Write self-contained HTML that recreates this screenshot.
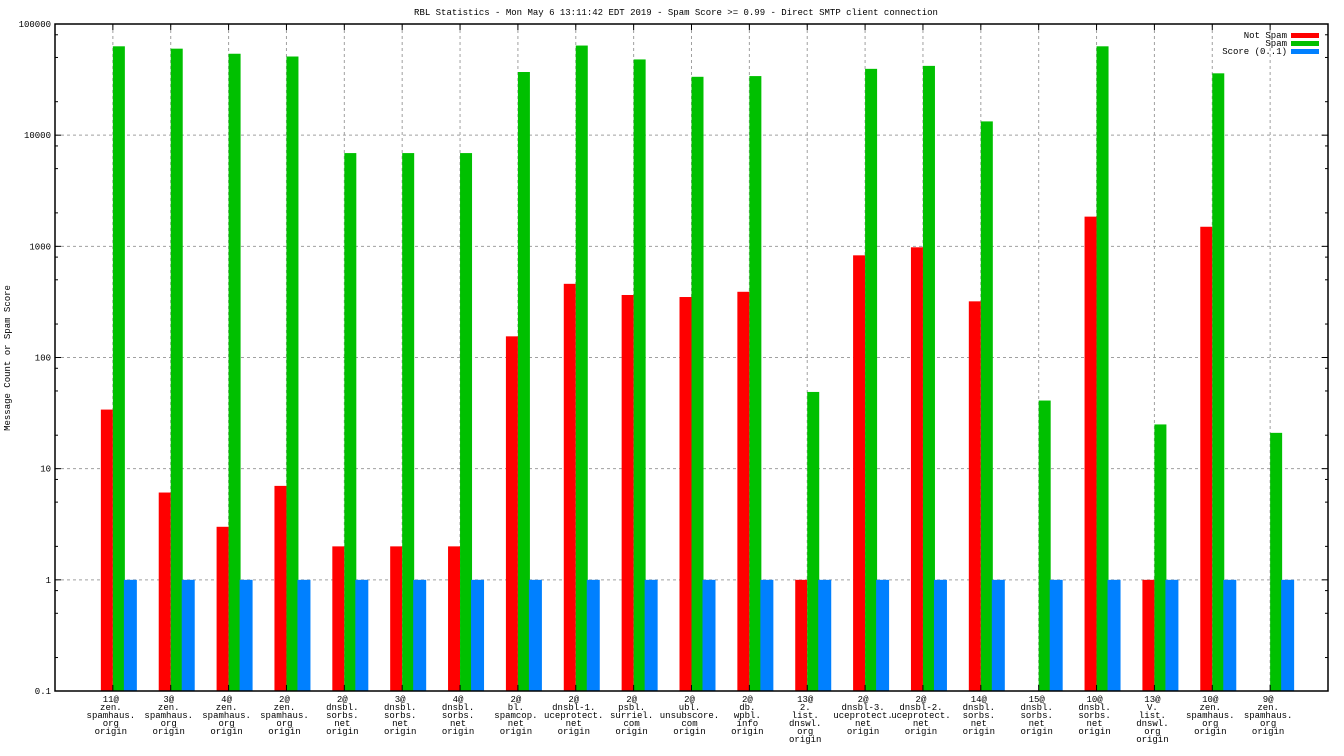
<!DOCTYPE html>
<html><head><meta charset="utf-8"><style>
html,body{margin:0;padding:0;background:#fff}
svg{display:block;font-family:"Liberation Mono",monospace}
text{font-size:9px;fill:#000}
</style></head><body>
<svg id="chart" width="1344" height="756" viewBox="0 0 1344 756" xmlns="http://www.w3.org/2000/svg">
<text x="676" y="15" text-anchor="middle">RBL Statistics - Mon May  6 13:11:42 EDT 2019 - Spam Score &gt;= 0.99 - Direct SMTP client connection</text>
<text transform="translate(10,358) rotate(-90)" text-anchor="middle">Message Count or Spam Score</text>
<g id="grid"></g><g id="bars"></g><g id="axes"></g><g id="labels"></g>
<g>
<text x="1287" y="38" text-anchor="end">Not Spam</text>
<rect x="1291" y="33" width="28" height="5" fill="#ff0000"/>
<text x="1287" y="46" text-anchor="end">Spam</text>
<rect x="1291" y="41" width="28" height="5" fill="#00c000"/>
<text x="1287" y="54" text-anchor="end">Score (0..1)</text>
<rect x="1291" y="49" width="28" height="5" fill="#0080ff"/>
</g>
</svg>
<script>
const categories=[["11@","zen.","spamhaus.","org","origin"],["3@","zen.","spamhaus.","org","origin"],["4@","zen.","spamhaus.","org","origin"],["2@","zen.","spamhaus.","org","origin"],["2@","dnsbl.","sorbs.","net","origin"],["3@","dnsbl.","sorbs.","net","origin"],["4@","dnsbl.","sorbs.","net","origin"],["2@","bl.","spamcop.","net","origin"],["2@","dnsbl-1.","uceprotect.","net","origin"],["2@","psbl.","surriel.","com","origin"],["2@","ubl.","unsubscore.","com","origin"],["2@","db.","wpbl.","info","origin"],["13@","2.","list.","dnswl.","org","origin"],["2@","dnsbl-3.","uceprotect.","net","origin"],["2@","dnsbl-2.","uceprotect.","net","origin"],["14@","dnsbl.","sorbs.","net","origin"],["15@","dnsbl.","sorbs.","net","origin"],["10@","dnsbl.","sorbs.","net","origin"],["13@","V.","list.","dnswl.","org","origin"],["10@","zen.","spamhaus.","org","origin"],["9@","zen.","spamhaus.","org","origin"]];
const notSpam=[34,6.1,3,7,2,2,2,155,460,365,350,390,1,830,980,320,null,1850,1,1500,null];
const spam=[63000,60000,54000,51000,6900,6900,6900,37000,64000,48000,33500,34000,49,39500,42000,13300,41,63000,25,36000,21];
const score=[1,1,1,1,1,1,1,1,1,1,1,1,1,1,1,1,1,1,1,1,1];
const yTicks=["0.1","1","10","100","1000","10000","100000"];

const NS="http://www.w3.org/2000/svg";
const L=55,R=1328,T=24,B=691;
const xs=i=>L+(i+1)*(R-L)/22;
const ys=v=>B-(Math.log10(v)+1)*(B-T)/6;
function mk(tag,attrs,parent){const e=document.createElementNS(NS,tag);for(const k in attrs)e.setAttribute(k,attrs[k]);document.getElementById(parent).appendChild(e);return e;}
// grid & y ticks
yTicks.forEach((t,k)=>{const v=parseFloat(t),y=ys(v);
 if(k>0&&k<yTicks.length-1){const g=mk('line',{x1:L,x2:R,y1:y,y2:y,stroke:'#a0a0a0','stroke-dasharray':'3,3'},'grid');
 
 }
 const tl=mk('text',{x:L-4,y:y+3,'text-anchor':'end'},'labels');tl.textContent=t;
 
 
 [[L,L+6],[R,R-6]].forEach(p=>mk('line',{x1:p[0],x2:p[1],y1:y,y2:y,stroke:'#000'},'axes'));
 if(k<yTicks.length-1)[2,5,8].forEach(m=>{const ym=ys(v*m);[[L,L+3],[R,R-3]].forEach(p=>mk('line',{x1:p[0],x2:p[1],y1:ym,y2:ym,stroke:'#000'},'axes'));});
});
categories.forEach((c,i)=>{const x=xs(i);
 const g=mk('line',{x1:x,x2:x,y1:T,y2:B,stroke:'#a0a0a0','stroke-dasharray':'3,3'},'grid');
 
 
 mk('line',{x1:x,x2:x,y1:T,y2:T+6,stroke:'#000'},'axes');
 mk('line',{x1:x,x2:x,y1:B,y2:B-6,stroke:'#000'},'axes');
 const t=mk('text',{x:x-2,y:702,'text-anchor':'middle'},'labels');
 
 
 c.forEach((ln,j)=>{const s=document.createElementNS(NS,'tspan');s.setAttribute('x',x-2);s.setAttribute('y',702+j*8);s.textContent=ln;t.appendChild(s);});
 [[notSpam,-12,'#ff0000','bar-not-spam'],[spam,0,'#00c000','bar-spam'],[score,11,'#0080ff','bar-score']].forEach(([arr,off,col,nm])=>{
  const v=arr[i];if(v==null)return;const y=ys(v);
  const r=mk('rect',{x:x+off,y:y,width:off===11?13:12,height:B-y,fill:col},'bars');
  
  
 });
});
const fr=mk('rect',{x:L,y:T,width:R-L,height:B-T,fill:'none',stroke:'#000','stroke-width':1.5},'axes');


</script>
</body></html>
